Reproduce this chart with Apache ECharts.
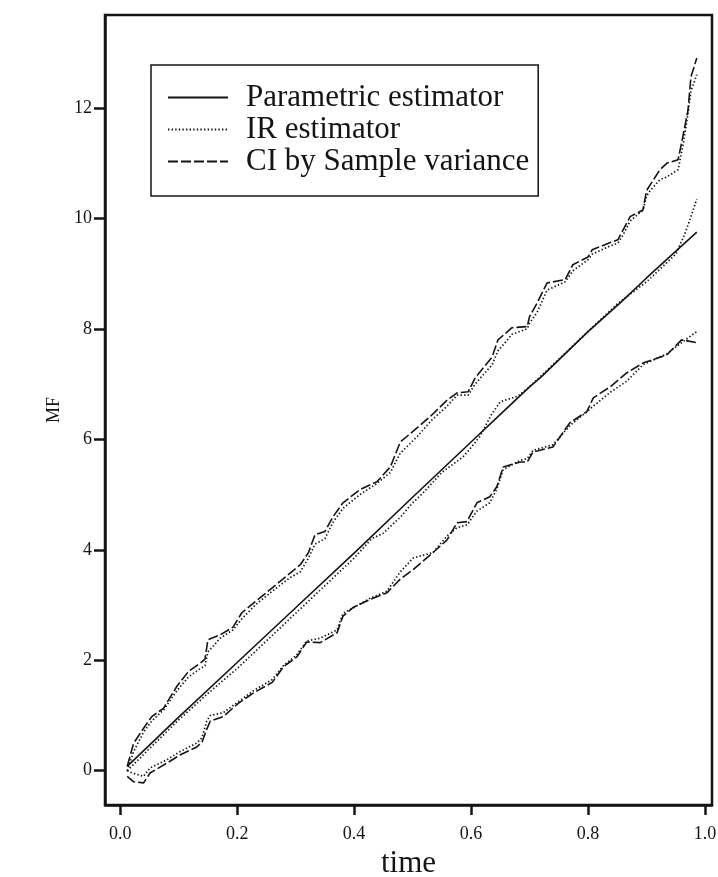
<!DOCTYPE html>
<html>
<head>
<meta charset="utf-8">
<script src="https://cdn.jsdelivr.net/npm/echarts@6/dist/echarts.min.js"></script>
<style>
html,body{margin:0;padding:0;background:#fff;}
#chart{width:718px;height:877px;}
</style>
</head>
<body>
<div id="chart"></div>
<script>
// ---- data ----
const xTicks = [0.0, 0.2, 0.4, 0.6, 0.8, 1.0];
const yTicks = [0, 2, 4, 6, 8, 10, 12];

const legendNames = ['Parametric estimator', 'IR estimator', 'CI by Sample variance'];

// central estimators
const paramTime = [0.012, 0.1, 0.2, 0.3, 0.4, 0.5, 0.6, 0.65, 0.7, 0.72, 0.8, 0.855, 0.9, 0.986];
const paramMF   = [0.08, 0.97, 1.96, 2.95, 3.94, 4.95, 5.95, 6.45, 6.95, 7.13, 7.95, 8.47, 8.92, 9.75];

const irTime = [0.012, 0.05, 0.1, 0.15, 0.2, 0.25, 0.3, 0.35, 0.4, 0.43, 0.45, 0.48, 0.5, 0.518, 0.55, 0.586, 0.6, 0.615, 0.635, 0.65, 0.68, 0.7, 0.75, 0.8, 0.85, 0.9, 0.93, 0.95, 0.965, 0.975, 0.986];
const irMF   = [0.0, 0.4, 0.92, 1.4, 1.85, 2.35, 2.85, 3.35, 3.85, 4.2, 4.3, 4.6, 4.85, 5.03, 5.4, 5.68, 5.85, 6.05, 6.45, 6.68, 6.78, 6.95, 7.45, 7.95, 8.45, 8.85, 9.15, 9.35, 9.7, 10.0, 10.35];

// upper confidence band
const upTime  = [0.012, 0.023, 0.04, 0.054, 0.074, 0.097, 0.117, 0.137, 0.145, 0.15, 0.171, 0.193, 0.208, 0.231, 0.26, 0.291, 0.308, 0.322, 0.333, 0.35, 0.364, 0.381, 0.41, 0.439, 0.462, 0.479, 0.508, 0.533, 0.559, 0.576, 0.595, 0.607, 0.636, 0.646, 0.67, 0.696, 0.7, 0.713, 0.73, 0.761, 0.774, 0.8, 0.807, 0.838, 0.851, 0.86, 0.872, 0.894, 0.9, 0.906, 0.923, 0.935, 0.954, 0.962, 0.971, 0.976, 0.986];
const ciUpper = [0.08, 0.5, 0.77, 0.98, 1.13, 1.53, 1.8, 1.95, 2.02, 2.37, 2.46, 2.6, 2.86, 3.06, 3.31, 3.58, 3.73, 3.95, 4.27, 4.33, 4.6, 4.85, 5.09, 5.23, 5.5, 5.95, 6.21, 6.44, 6.71, 6.84, 6.86, 7.11, 7.49, 7.8, 8.02, 8.04, 8.22, 8.47, 8.83, 8.89, 9.16, 9.3, 9.43, 9.56, 9.61, 9.79, 10.03, 10.15, 10.5, 10.6, 10.88, 11.0, 11.06, 11.47, 11.96, 12.56, 12.9];
const irUpper = [0.0, 0.35, 0.7, 0.9, 1.1, 1.45, 1.7, 1.85, 1.9, 2.15, 2.4, 2.55, 2.75, 3.0, 3.25, 3.5, 3.6, 3.85, 4.1, 4.2, 4.5, 4.75, 5.0, 5.2, 5.4, 5.75, 6.05, 6.35, 6.6, 6.8, 6.8, 7.0, 7.35, 7.6, 7.9, 8.0, 8.1, 8.3, 8.7, 8.85, 9.05, 9.25, 9.35, 9.5, 9.55, 9.7, 9.95, 10.15, 10.4, 10.5, 10.7, 10.75, 10.88, 11.3, 11.9, 12.3, 12.6];

// lower confidence band
const lowTime = [0.012, 0.023, 0.04, 0.051, 0.08, 0.103, 0.131, 0.14, 0.148, 0.154, 0.176, 0.202, 0.228, 0.26, 0.279, 0.302, 0.319, 0.342, 0.371, 0.381, 0.399, 0.427, 0.456, 0.479, 0.501, 0.535, 0.559, 0.576, 0.593, 0.61, 0.632, 0.644, 0.655, 0.684, 0.696, 0.706, 0.74, 0.769, 0.798, 0.809, 0.838, 0.866, 0.894, 0.935, 0.96, 0.986];
const ciLower = [-0.1, -0.2, -0.22, -0.04, 0.14, 0.29, 0.43, 0.52, 0.75, 0.9, 0.98, 1.22, 1.41, 1.6, 1.88, 2.06, 2.33, 2.32, 2.5, 2.8, 2.96, 3.1, 3.22, 3.47, 3.64, 3.95, 4.18, 4.49, 4.51, 4.85, 4.96, 5.14, 5.5, 5.59, 5.59, 5.77, 5.86, 6.3, 6.5, 6.75, 6.95, 7.2, 7.38, 7.53, 7.8, 7.75];
const irLower = [0.0, -0.05, -0.1, 0.05, 0.2, 0.35, 0.5, 0.6, 0.9, 1.0, 1.05, 1.25, 1.45, 1.65, 1.9, 2.1, 2.35, 2.4, 2.55, 2.85, 2.95, 3.12, 3.25, 3.6, 3.85, 3.95, 4.25, 4.4, 4.45, 4.7, 4.85, 5.1, 5.45, 5.62, 5.65, 5.8, 5.9, 6.25, 6.5, 6.6, 6.85, 7.05, 7.35, 7.55, 7.75, 7.95];

// ---- build chart ----
function zip(ts, vs) { return ts.map((t, i) => [t, vs[i]]); }

const ink = '#141414';
const serif = '"Liberation Serif", "DejaVu Serif", serif';
const dashed = [10, 3];
const dotted = [1.4, 2.2];

function lineSeries(name, data, type, width) {
  return {
    name: name, type: 'line', data: data, symbol: 'none', showSymbol: false,
    lineStyle: { color: ink, width: width, type: type, cap: 'butt' },
    itemStyle: { color: ink },
    silent: true, z: 3
  };
}

const chart = echarts.init(document.getElementById('chart'), null, { renderer: 'canvas' });
chart.setOption({
  animation: false,
  backgroundColor: '#fff',
  grid: { left: 105, right: 6, top: 15, bottom: 72, show: true, borderColor: ink, borderWidth: 2.5, containLabel: false, outerBoundsMode: 'none' },
  legend: {
    data: legendNames.map(n => ({ name: n })),
    orient: 'vertical', left: 151, top: 65,
    itemWidth: 60, itemHeight: 14, itemGap: 1,
    borderColor: ink, borderWidth: 1.5, borderRadius: 0,
    padding: [17, 9, 19, 16],
    selectedMode: false,
    itemStyle: { opacity: 0 },
    textStyle: { fontFamily: serif, fontSize: 31, color: ink, padding: [0, 0, 0, 13] }
  },
  xAxis: {
    type: 'value', min: -0.026, max: 1.012,
    name: 'time', nameLocation: 'middle', nameGap: 36,
    nameTextStyle: { fontFamily: serif, fontSize: 31, color: ink },
    axisLine: { show: true, onZero: false, lineStyle: { color: ink, width: 2.5 } },
    axisTick: { show: true, length: 10, inside: false, customValues: xTicks, lineStyle: { color: ink, width: 2.5 } },
    axisLabel: { customValues: xTicks, formatter: v => v.toFixed(1), fontFamily: serif, fontSize: 18, color: ink, margin: 20 },
    splitLine: { show: false }
  },
  yAxis: {
    type: 'value', min: -0.62, max: 13.68,
    name: 'MF', nameLocation: 'middle', nameGap: 33, nameRotate: 90,
    nameTextStyle: { fontFamily: serif, fontSize: 18, color: ink },
    axisLine: { show: true, onZero: false, lineStyle: { color: ink, width: 2.5 } },
    axisTick: { show: true, length: 11, inside: false, customValues: yTicks, lineStyle: { color: ink, width: 2.5 } },
    axisLabel: { customValues: yTicks, fontFamily: serif, fontSize: 18, color: ink, margin: 13 },
    splitLine: { show: false }
  },
  series: [
    lineSeries(legendNames[0], zip(paramTime, paramMF), 'solid', 1.6),
    lineSeries(legendNames[1], zip(irTime, irMF), dotted, 1.7),
    lineSeries(legendNames[2], zip(upTime, ciUpper), dashed, 1.6),
    lineSeries(legendNames[1], zip(upTime, irUpper), dotted, 1.7),
    lineSeries(legendNames[2], zip(lowTime, ciLower), dashed, 1.6),
    lineSeries(legendNames[1], zip(lowTime, irLower), dotted, 1.7)
  ]
});
</script>
</body>
</html>
